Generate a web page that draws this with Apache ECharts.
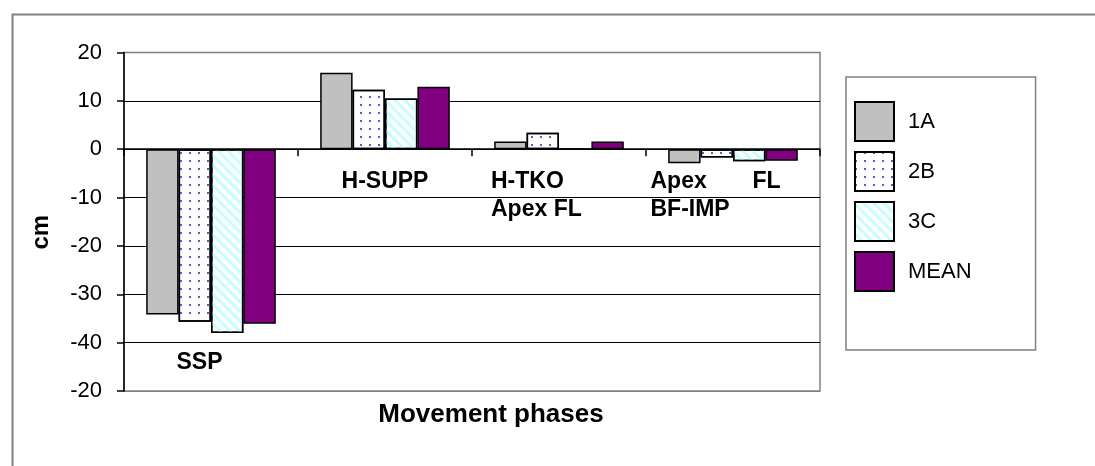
<!DOCTYPE html>
<html>
<head>
<meta charset="utf-8">
<script src="https://cdn.jsdelivr.net/npm/echarts@6/dist/echarts.min.js"></script>
<style>
html,body{margin:0;padding:0;background:#fff;}
#chart{width:1095px;height:466px;}
</style>
</head>
<body>
<div id="chart"></div>
<script>
// ---- data ----
const categories = ['SSP', 'H-SUPP', 'H-TKO\nApex FL', 'Apex FL\nBF-IMP'];
const seriesNames = ['1A', '2B', '3C', 'MEAN'];
const values1A   = [-34.2, 15.8, 1.6, -2.9];
const values2B   = [-35.7, 12.3, 3.4, -1.7];
const values3C   = [-38.0, 10.5, 0, -2.5];
const valuesMean = [-36.1, 12.9, 1.6, -2.4];
const yTickLabels = ['20', '10', '0', '-10', '-20', '-30', '-40', '-20'];
const yMax = 20, yMin = -50, yStep = 10;

// ---- styles ----
const FONT = "'Liberation Sans', Arial, sans-serif";
const border = { borderColor: '#000', borderWidth: 1.5 };
const styles = [
  Object.assign({ color: '#C0C0C0' }, border),
  Object.assign({ color: '#FFFFFF', decal: { symbol: 'circle', symbolSize: 1, color: '#2a2aa8', dashArrayX: [1.8, 6.2], dashArrayY: [1.8, 5.7] } }, border),
  Object.assign({ color: '#FFFFFF', decal: { symbol: 'rect', symbolSize: 1, color: '#c6fdfd', dashArrayX: [1, 0], dashArrayY: [3, 4], rotation: Math.PI / 4 } }, border),
  Object.assign({ color: '#800080' }, border)
];
const allValues = [values1A, values2B, values3C, valuesMean];

function xLabel(value, index) {
  const lines = value.split('\n');
  if (index === 0) return '{gap| }\n{ssp|' + lines[0] + '}';
  if (index === 1) return '{c|' + lines[0] + '}';
  if (index === 2) return lines.map(function (l) { return '{tko|' + l + '}'; }).join('\n');
  const first = lines[0].split(' ');
  return '{apA|' + first[0] + '}{apB|' + first[1] + '}\n{apL|' + lines[1] + '}';
}
const lbl = { fontFamily: FONT, fontSize: 23, fontWeight: 'bold', color: '#000', lineHeight: 28.5, align: 'left' };

const chart = echarts.init(document.getElementById('chart'), null, { renderer: 'canvas' });
chart.setOption({
  backgroundColor: '#fff',
  animation: false,
  graphic: [{
    type: 'rect', left: 10, top: 12, silent: true,
    shape: { width: 1300, height: 700 },
    style: { fill: 'none', stroke: '#808080', lineWidth: 2 }
  }],
  grid: { left: 124, right: 275, top: 52.5, bottom: 75, containLabel: false, outerBoundsMode: 'none', show: true, borderColor: '#808080', borderWidth: 1.5, backgroundColor: 'transparent' },
  legend: {
    orient: 'vertical', left: 846, top: 77,
    data: seriesNames,
    icon: 'rect',
    itemWidth: 39, itemHeight: 39, itemGap: 9,
    padding: [24, 64, 58, 8],
    borderColor: '#808080', borderWidth: 1.5,
    backgroundColor: '#fff',
    selectedMode: false,
    textStyle: { fontFamily: FONT, fontSize: 22, color: '#000', padding: [12, 0, 0, 9] }
  },
  xAxis: {
    type: 'category',
    data: categories,
    axisLine: { onZero: true, lineStyle: { color: '#000', width: 1.5 } },
    axisTick: { show: true, length: 7, lineStyle: { color: '#000', width: 1.5 } },
    axisLabel: {
      interval: 0, margin: -223.7, formatter: xLabel, hideOverlap: false,
      rich: {
        gap: { fontSize: 2, lineHeight: 181, height: 181 },
        ssp: Object.assign({}, lbl, { width: 69 }),
        c: Object.assign({}, lbl, { align: 'center' }),
        tko: Object.assign({}, lbl, { width: 136 }),
        apA: Object.assign({}, lbl, { width: 102 }),
        apB: Object.assign({}, lbl, { width: 63 }),
        apL: Object.assign({}, lbl, { width: 165 })
      }
    },
    name: 'Movement phases', nameLocation: 'middle', nameGap: 11,
    nameTextStyle: { fontFamily: FONT, fontSize: 26, fontWeight: 'bold', color: '#000', padding: [0, 0, 0, 38] }
  },
  yAxis: {
    type: 'value', min: yMin, max: yMax, interval: yStep,
    axisLine: { show: true, lineStyle: { color: '#000', width: 1.5 } },
    axisTick: { show: true, length: 7, lineStyle: { color: '#000', width: 1.5 } },
    axisLabel: {
      margin: 22, fontFamily: FONT, fontSize: 22, color: '#000', hideOverlap: false,
      formatter: function (v) { return yTickLabels[Math.round((yMax - v) / yStep)]; }
    },
    splitLine: { show: true, lineStyle: { color: ['#808080', '#000', '#000', '#000', '#000', '#000', '#000', '#808080'], width: 1.2 } },
    name: 'cm', nameLocation: 'middle', nameGap: 71, nameRotate: 90,
    nameTextStyle: { fontFamily: FONT, fontSize: 24, fontWeight: 'bold', color: '#000', padding: [0, 21, 0, 0] }
  },
  series: seriesNames.map(function (n, i) {
    return {
      name: n, type: 'bar', data: allValues[i],
      barGap: '0%', barCategoryGap: '25.5%',
      itemStyle: styles[i]
    };
  })
});
</script>
</body>
</html>
